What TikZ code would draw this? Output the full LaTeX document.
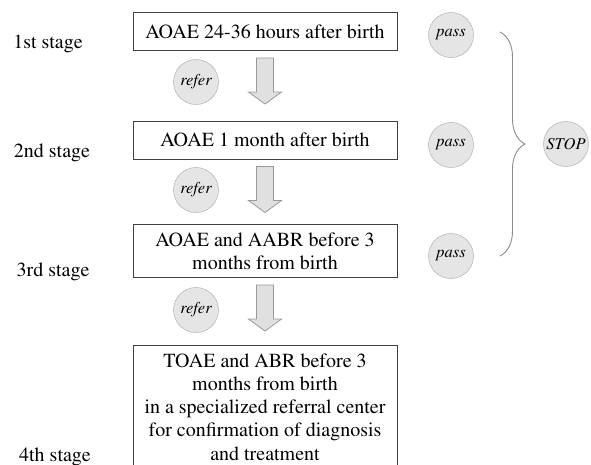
\documentclass[tikz,border=0pt]{standalone}
\usepackage[T1]{fontenc}
\usepackage{times}
\usetikzlibrary{calc,decorations.pathreplacing}

\begin{document}
\begin{tikzpicture}[x=1pt,y=-1pt,
  box/.style={draw=black!75,line width=1pt,align=center,minimum width=264pt,minimum height=38pt,
              inner xsep=4pt,inner ysep=8pt,font=\fontsize{20}{23.3}\selectfont},
  bubble/.style={circle,draw=black!35,fill=black!10,minimum size=45pt,inner sep=0pt,
                 font=\itshape\fontsize{16.5}{18}\selectfont},
  lbl/.style={font=\fontsize{20}{24}\selectfont},
  blockarr/.style={draw=black!40,fill=black!12,line width=0.8pt}]
  \useasboundingbox (0,0) rectangle (591,464);
  \clip (0,0) rectangle (591,464);
  % stages
  \node[lbl] (s1) at (48,44) {1st stage};
  \node[lbl] (s2) at (52,153) {2nd stage};
  \node[lbl] (s3) at (53,272) {3rd stage};
  \node[lbl] (s4) at (55,457) {4th stage};
  % tests
  \node[box] (b1) at (265,31.5) {AOAE 24-36 hours after birth};
  \node[box] (b2) at (265,140) {AOAE 1 month after birth};
  \node[box] (b3) at (265,251) {AOAE and AABR before 3\\months from birth};
  \node[box,anchor=north] (b4) at (265,345) {TOAE and ABR before 3\\months from birth\\in a specialized referral center\\for confirmation of diagnosis\\and treatment};
  % outcomes
  \node[bubble] (r1) at (196,82) {refer};
  \node[bubble] (r2) at (196,190) {refer};
  \node[bubble] (r3) at (196,310) {refer};
  \node[bubble] (p1) at (451,35) {pass};
  \node[bubble] (p2) at (451,145) {pass};
  \node[bubble] (p3) at (451,256) {pass};
  \node[bubble] (stop) at (566,144) {STOP};
  \foreach \a in {b1,b2,b3}
    \draw[blockarr] ($(\a.south)+(-8.5,7)$) -- ++(17,0) -- ++(0,34) -- ++(8,0)
      -- ++(-16.5,12) -- ++(-16.5,-12) -- ++(8,0) -- cycle;
  \coordinate (bt) at (500,32);
  \coordinate (bb) at (500,256);
  \draw[black!45,line width=0.9pt,decorate,decoration={brace,amplitude=25pt}] (bt) -- (bb);
\end{tikzpicture}
\end{document}
